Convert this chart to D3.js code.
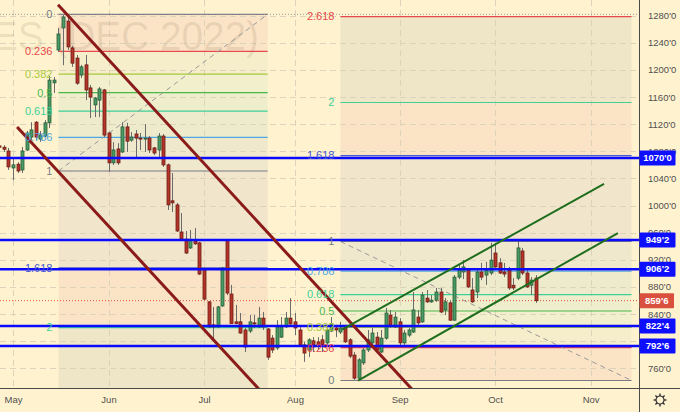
<!DOCTYPE html>
<html><head><meta charset="utf-8">
<script src="https://cdn.jsdelivr.net/npm/d3@7/dist/d3.min.js"></script>
<style>html,body{margin:0;padding:0;background:#fff3cf;}svg{display:block;font-family:"Liberation Sans",Arial,sans-serif;}</style>
</head><body><svg id="c" width="680" height="412"></svg>
<script>
// ---- data (daily bars, first bar = 27 Apr 2022, bar index -3) ----
const firstIndex = -3;
const openP  = [1088,1086,1080.5,1055.5,1061,1052.5,1082,1101,1123,1098,1102.5,1122,1181,1229.5,1262,1272,1232.5,1217.5,1192.5,1207.5,1173.5,1148.5,1155.5,1170.5,1107,1063,1083.5,1079,1116,1096.5,1105.5,1099.5,1098,1099.5,1085,1082,1102.5,1060,1007,1001,961,950.5,937.5,947.5,945,906.5,858,824,821,852,949,869.5,828.5,828.5,816.5,815,827,821,834,818,804.5,790,806,821,834,828.5,816.5,794.5,787,800.5,799,802,797.5,815,819.5,813.5,819.5,802,779.5,745.5,768,787,797.5,806,784,804.5,838.5,821,828.5,797.5,809,813.5,835.5,828.5,863.5,858,860.5,872.5,846,856.5,831,894.5,902,905,875.5,872.5,902,897.5,900.5,930,915.5,902,905,882.5,893,933,900.5,882.5,893];
const highP  = [1092,1089,1085,1071.5,1064,1086.5,1110,1123,1124.5,1110,1126,1191,1189.5,1262,1281,1278,1235.5,1222,1207.5,1222,1178,1160,1175,1172,1109,1093.5,1092,1123,1122,1108.5,1111.5,1107,1120,1102.5,1086.5,1107,1105.5,1062,1048,1004,989,962.5,964,967,946.5,909.5,859,850.5,852,909.5,950,883,853.5,841.5,819.5,838.5,838.5,850.5,843,819.5,809,831,835.5,843,863.5,841.5,821,799,804.5,806,806,809,821,835.5,824,828.5,824,804.5,784,775,790,816.5,819.5,813.5,816.5,849,846,843,834,816.5,819.5,872.5,846,872.5,875.5,868,878.5,878.5,863.5,860.5,897.5,912.5,919.5,908,893,905,915.5,917,945,945,922.5,915.5,909.5,893,949,937.5,905,894.5,897.5];
const lowP   = [1082,1079,1052.5,1037.5,1048,1048,1080.5,1096.5,1096.5,1094,1101,1114.5,1166,1226.5,1207,1229.5,1204.5,1178,1188,1155.5,1129,1130.5,1130.5,1101,1049.5,1060,1060,1077.5,1079,1094,1070,1082,1079,1077.5,1074.5,1070,1057,993.5,990.5,961,949,928.5,936,942,897.5,860.5,819.5,802,819.5,850.5,868,826,825,811,784,812,819.5,819.5,816.5,772.5,782.5,787,804.5,819.5,821,809,791.5,769.5,776.5,784,787,784,794.5,813.5,806,810.5,797.5,775,743,742,765,784,794.5,784,782.5,802,819.5,819.5,791.5,794.5,806,812,824,827,856.5,856.5,858,841.5,838.5,830,830,891.5,891.5,878.5,856.5,863.5,890,883,897.5,908,899,894.5,875.5,875.5,890,897.5,878.5,868,856.5];
const closeP = [1086,1083,1057,1060,1051,1080.5,1107,1111.5,1101,1104,1122,1185,1185,1253,1278,1234,1210,1180.5,1204.5,1170.5,1160,1158.5,1172,1104,1063,1082,1063,1116,1095,1101,1099.5,1098,1099.5,1082,1077.5,1102.5,1060,1001,1004,962.5,950.5,930,949,943.5,899,862,821,821,850.5,908,871,826,826,812,791.5,828.5,826,834,821,776.5,787,821,821,834,825.5,819.5,794.5,782.5,802,791.5,794.5,794.5,816.5,825.5,816.5,819.5,799,778,745.5,772.5,787,802,812,787,804.5,841.5,824,835.5,797.5,812,816.5,846,827,868,858,860.5,872.5,843,858,831,894.5,905,909.5,880,858,902,894.5,905,919.5,909.5,900.5,899,878.5,878.5,937.5,900.5,880,890,859.75];

const monthLabels = ["May","Jun","Jul","Aug","Sep","Oct","Nov"];
const monthStartIndex = [0,21,42,62,85,106,127];
const priceTicks = [760,800,840,880,920,960,1000,1040,1080,1120,1160,1200,1240,1280];
const keyLevels = [1070,949.25,906.25,822.5,792.75];
const lastPrice = 859.75;
const highLine = 1282;
const fibRatios = [0,0.236,0.382,0.5,0.618,0.786,1,1.618,2,2.618];
const fibLabels = ["0","0.236","0.382","0.5","0.618","0.786","1","1.618","2","2.618"];
const fibLeft  = {i1:10, p1:1051, i2:56,  p2:1282};
const fibRight = {i1:72, p1:947,  i2:136, p2:742};
const downChannel = [{i1:9.9,p1:1296,i2:92,p2:698},{i1:0.9,p1:1116,i2:56,p2:715.3}];
const upChannel = [{i1:72.34,p1:817.2,i2:129.95,p2:1031.8},{i1:75.86,p1:742,i2:133,p2:959.5}];
const watermark = "ES (DEC 2022)";

// ---- styles ----
const fibLineColors = ["#787b86","#e5484d","#a8c83c","#4db84a","#3fcf98","#4ea8e0","#787b86","#4458d0","#3fcf98","#e5484d"];
const fibFillColors = ["#fbe3c6","#f6eecb","#f1efcc","#eeedcc","#eeebcc","#f0e8cc","#f1e6cc","#fbe4c6","#eee6c6"];

const W=680,H=412,PW=639,PH=388;
const svg = d3.select("#c");
const x = d3.scaleLinear().domain([-2.858,137.64]).range([0,PW]);
const y = d3.scaleLinear().domain([730.95,1303.15]).range([PH,0]);
const fmt = p => { const n=Math.floor(p+1e-9); return n+"'"+Math.round((p-n)*8); };

svg.append("rect").attr("width",W).attr("height",H).attr("fill","#fff3cf");
svg.append("defs").append("clipPath").attr("id","plot").append("rect").attr("width",PW).attr("height",PH);
const plot = svg.append("g").attr("clip-path","url(#plot)");

const fibPrice = (f,r) => f.p2 - r*(f.p2-f.p1);
// fib fills
[fibLeft,fibRight].forEach(f=>{
  const x1=x(f.i1), x2=x(f.i2);
  for(let k=0;k<fibRatios.length-1;k++){
    const ya=y(fibPrice(f,fibRatios[k])), yb=y(fibPrice(f,fibRatios[k+1]));
    plot.append("rect").attr("x",x1).attr("y",Math.min(ya,yb)).attr("width",x2-x1)
      .attr("height",Math.abs(yb-ya)).attr("fill",fibFillColors[k]);
  }
});

// grid
plot.selectAll(".hg").data(priceTicks).join("line").attr("x1",0).attr("x2",PW)
  .attr("y1",d=>Math.round(y(d))+0.5).attr("y2",d=>Math.round(y(d))+0.5)
  .attr("stroke","#ddd3bb").attr("stroke-dasharray","6,4").attr("stroke-width",1);
plot.selectAll(".vg").data(monthStartIndex).join("line").attr("y1",0).attr("y2",PH)
  .attr("x1",d=>Math.round(x(d))+0.5).attr("x2",d=>Math.round(x(d))+0.5)
  .attr("stroke","#ddd3bb").attr("stroke-dasharray","6,4").attr("stroke-width",1);

// watermark
plot.append("text").attr("x",-8).attr("y",50).attr("font-size",40).attr("fill","#6e5a3c")
  .attr("textLength",267).attr("lengthAdjust","spacingAndGlyphs")
  .attr("fill-opacity",0.13).text(watermark);

// fib lines + labels
[fibLeft,fibRight].forEach(f=>{
  const x1=x(f.i1), x2=x(f.i2);
  fibRatios.forEach((r,k)=>{
    const yy=y(fibPrice(f,r));
    plot.append("line").attr("x1",x1).attr("x2",x2).attr("y1",yy).attr("y2",yy)
      .attr("stroke",fibLineColors[k]).attr("stroke-width",1.2);
  });
  plot.append("line").attr("x1",x(f.i1)).attr("y1",y(f.p1)).attr("x2",x(f.i2)).attr("y2",y(f.p2))
    .attr("stroke","#9a9a9a").attr("stroke-dasharray","5,4").attr("stroke-width",1);
});

// top dotted line and last price dotted line
plot.append("line").attr("x1",0).attr("x2",PW).attr("y1",y(highLine)).attr("y2",y(highLine))
  .attr("stroke","#9a9a9a").attr("stroke-dasharray","1,2");
plot.append("line").attr("x1",0).attr("x2",PW).attr("y1",y(lastPrice)).attr("y2",y(lastPrice))
  .attr("stroke","#e0503c").attr("stroke-dasharray","1,2");

// candles
const bars = openP.map((o,k)=>({i:firstIndex+k,o,h:highP[k],l:lowP[k],c:closeP[k]}));
const cg = plot.append("g");
cg.selectAll("line").data(bars).join("line")
  .attr("x1",d=>Math.round(x(d.i))+0.5).attr("x2",d=>Math.round(x(d.i))+0.5)
  .attr("y1",d=>y(d.h)).attr("y2",d=>y(d.l)).attr("stroke","#6b6b6b").attr("stroke-width",1);
cg.selectAll("rect").data(bars).join("rect")
  .attr("x",d=>Math.round(x(d.i))-1).attr("width",3)
  .attr("y",d=>y(Math.max(d.o,d.c))).attr("height",d=>Math.max(1,Math.abs(y(d.o)-y(d.c))))
  .attr("fill",d=>d.c>=d.o?"#4a9a63":"#b5342a")
  .attr("stroke",d=>d.c>=d.o?"#285c3a":"#6d1d16").attr("stroke-width",0.8);

// key horizontal levels
plot.selectAll(".kl").data(keyLevels).join("line").attr("x1",0).attr("x2",PW)
  .attr("y1",d=>y(d)).attr("y2",d=>y(d)).attr("stroke","#0a0aff").attr("stroke-width",2.5);

// trend channels
plot.selectAll(".dc").data(downChannel).join("line")
  .attr("x1",d=>x(d.i1)).attr("y1",d=>y(d.p1)).attr("x2",d=>x(d.i2)).attr("y2",d=>y(d.p2))
  .attr("stroke","#8b1a1a").attr("stroke-width",3);
plot.selectAll(".uc").data(upChannel).join("line")
  .attr("x1",d=>x(d.i1)).attr("y1",d=>y(d.p1)).attr("x2",d=>x(d.i2)).attr("y2",d=>y(d.p2))
  .attr("stroke","#1e6e1e").attr("stroke-width",2);

// fib labels
[fibLeft,fibRight].forEach(f=>{
  fibRatios.forEach((r,k)=>{
    const yy=y(fibPrice(f,r));
    if (yy>PH) return;
    plot.append("text").attr("x",x(f.i1)-6).attr("y",yy).attr("dy","0.35em")
      .attr("text-anchor","end").attr("font-size",11).attr("fill",fibLineColors[k]).text(fibLabels[k]);
  });
});

// price axis
const ay = svg.append("g").attr("transform",`translate(${PW},0)`)
  .call(d3.axisRight(y).tickValues(priceTicks).tickFormat(fmt).tickSize(0).tickPadding(9));
ay.select(".domain").remove();
ay.selectAll("text").attr("font-size",9.5).attr("fill","#505050").attr("font-family","Liberation Sans, Arial, sans-serif");
// time axis
const ax = svg.append("g").attr("transform",`translate(0,${PH})`)
  .call(d3.axisBottom(x).tickValues(monthStartIndex).tickFormat((d,k)=>monthLabels[k]).tickSize(0).tickPadding(8));
ax.select(".domain").remove();
ax.selectAll("text").attr("font-size",9.5).attr("fill","#505050").attr("font-family","Liberation Sans, Arial, sans-serif");

svg.append("line").attr("x1",PW+0.5).attr("x2",PW+0.5).attr("y1",0).attr("y2",H).attr("stroke","#4a4a4a");
svg.append("line").attr("x1",0).attr("x2",W).attr("y1",PH+0.5).attr("y2",PH+0.5).attr("stroke","#4a4a4a");

// price-axis level boxes
const boxes = keyLevels.map(v=>({v,col:"#0f0fff",w:36})).concat([{v:lastPrice,col:"#d9503f",w:34.5}]);
const bg = svg.append("g");
boxes.forEach(b=>{
  const yy=y(b.v);
  bg.append("rect").attr("x",PW+0.5).attr("y",yy-7.5).attr("width",b.w).attr("height",15).attr("rx",1).attr("fill",b.col);
  bg.append("text").attr("x",PW+0.5+b.w/2).attr("y",yy).attr("dy","0.35em").attr("text-anchor","middle")
    .attr("font-size",9.5).attr("font-weight","bold").attr("fill","#ffffff").text(fmt(b.v));
});

// gear icon
const gear = svg.append("g").attr("transform","translate(660,400)");
gear.append("circle").attr("r",4).attr("fill","none").attr("stroke","#333").attr("stroke-width",1.2);
d3.range(8).forEach(k=>{
  const a=k*Math.PI/4;
  gear.append("line").attr("x1",4*Math.cos(a)).attr("y1",4*Math.sin(a)).attr("x2",6.5*Math.cos(a)).attr("y2",6.5*Math.sin(a))
    .attr("stroke","#333").attr("stroke-width",1.4);
});
</script></body></html>
